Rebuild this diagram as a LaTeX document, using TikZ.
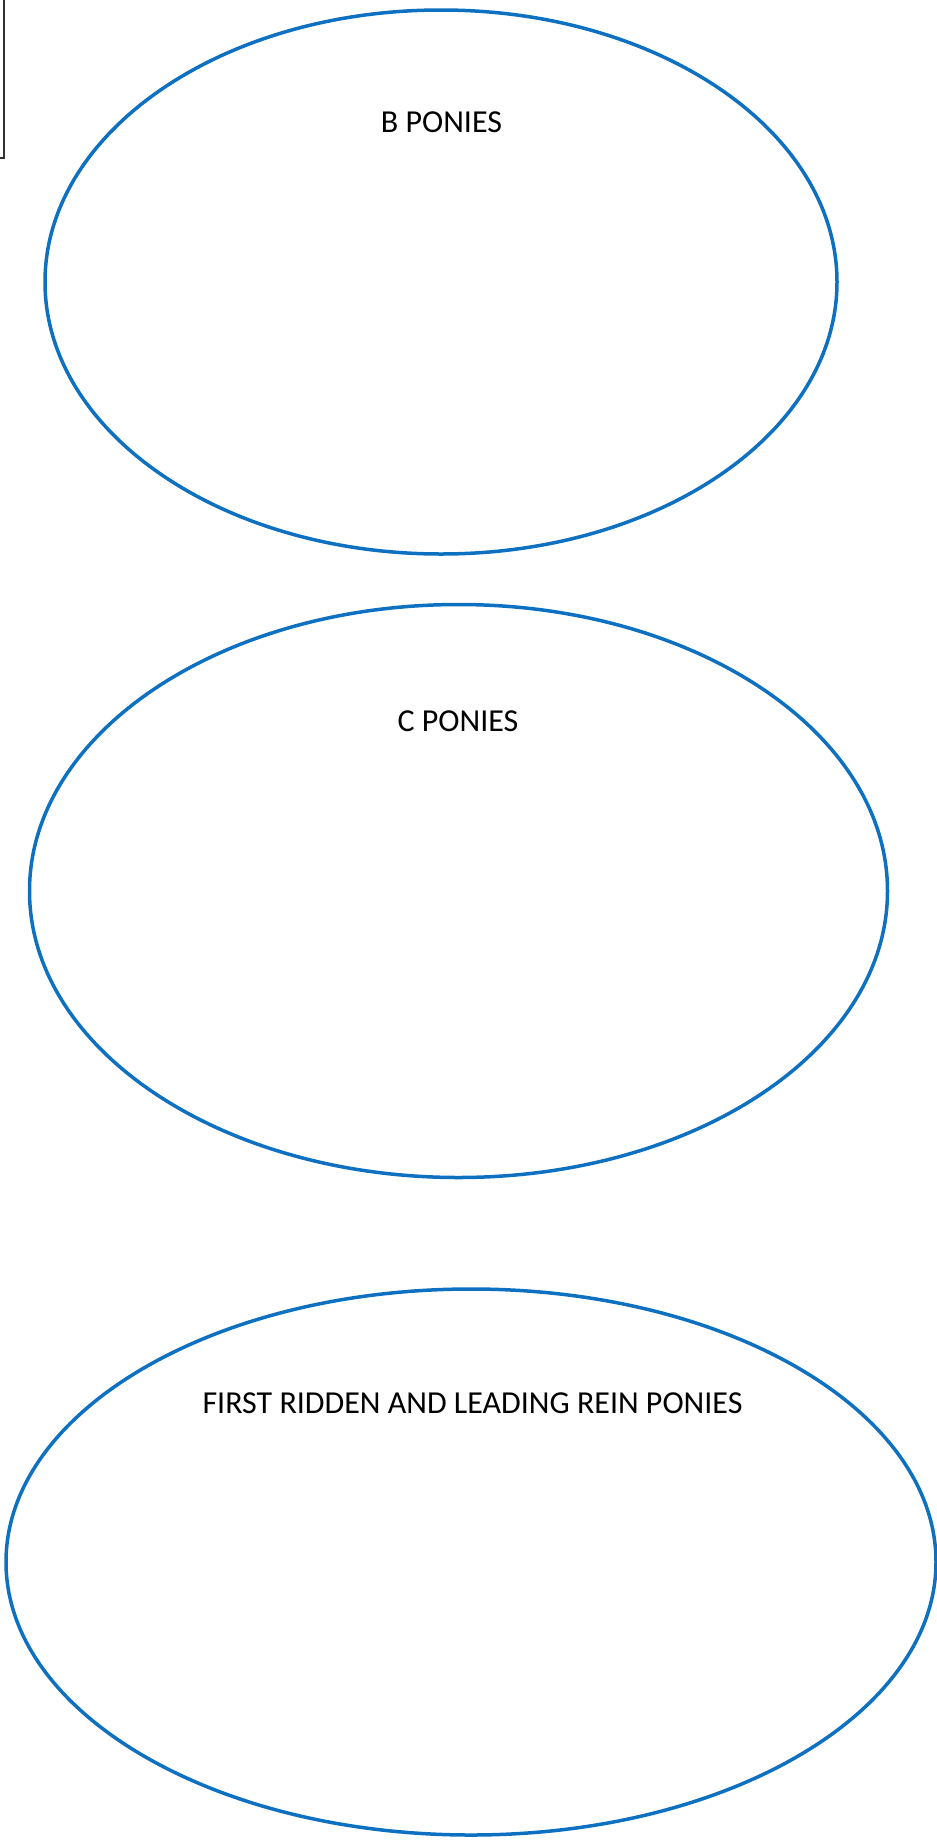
\documentclass[tikz,border=0pt]{standalone}
\usepackage{fontspec}
\setmainfont{Carlito}
\definecolor{eblue}{HTML}{0E70C0}
\begin{document}
\begin{tikzpicture}[x=1pt,y=-1pt,
  oval/.style={line width=3.5pt,eblue},
  lbl/.style={font=\fontsize{32}{38}\selectfont,text=black,inner sep=0pt}]
\useasboundingbox (0,0) rectangle (937,1840);
\draw[oval] (441,282) ellipse [x radius=396,y radius=272];
\draw[oval] (458.5,891) ellipse [x radius=429,y radius=286.5];
\draw[oval] (471,1562) ellipse [x radius=465,y radius=273];
\node[lbl] (b) at (441.5,122) {B PONIES};
\node[lbl] (c) at (458,721) {C PONIES};
\node[lbl] (f) at (472.5,1403) {FIRST RIDDEN AND LEADING REIN PONIES};
\draw[line width=1.3pt,black!80] (-1,158) -- (4,158) -- (4,-2);
\end{tikzpicture}
\end{document}
